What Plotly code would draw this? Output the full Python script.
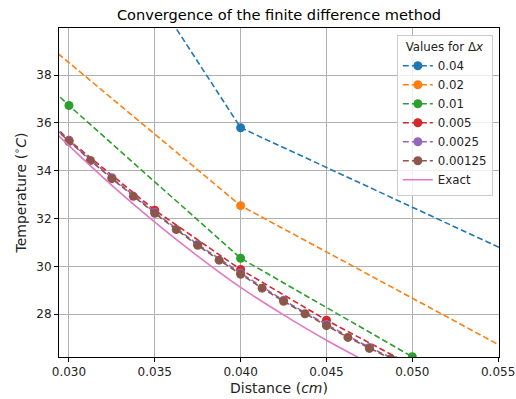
import plotly.graph_objects as go

# Finite-difference solutions for each grid spacing (x in cm, T in °C)
x_004 = [0.0, 0.04, 0.08]
t_004 = [80.0, 35.8, 22.5]

x_002 = [0.0, 0.02, 0.04, 0.06]
t_002 = [80.0, 44.5, 32.54, 24.8]

x_001 = [0.02, 0.03, 0.04, 0.05, 0.06]
t_001 = [43.56, 36.73, 30.34, 26.22, 23.6]

x_0005 = [0.025, 0.030, 0.035, 0.040, 0.045, 0.050]
t_0005 = [38.8, 35.28, 32.35, 29.87, 27.75, 25.85]

x_00025 = [0.0275, 0.0300, 0.0325, 0.0350, 0.0375, 0.0400, 0.0425,
           0.0450, 0.0475, 0.0500]
t_00025 = [36.9, 35.25, 33.71, 32.26, 30.92, 29.72, 28.58, 27.57, 26.61, 25.77]

x_000125 = [0.02875, 0.03000, 0.03125, 0.03250, 0.03375, 0.03500, 0.03625,
            0.03750, 0.03875, 0.04000, 0.04125, 0.04250, 0.04375, 0.04500,
            0.04625, 0.04750, 0.04875, 0.05000]
t_000125 = [36.04, 35.22, 34.43, 33.67, 32.93, 32.22, 31.54, 30.88, 30.26,
            29.67, 29.09, 28.54, 28.02, 27.52, 27.03, 26.57, 26.14, 25.72]

x_exact = [0.0275, 0.0300, 0.0325, 0.0350, 0.0375, 0.0400, 0.0425, 0.0450,
           0.0475, 0.0500]
t_exact = [36.80, 35.05, 33.39, 31.85, 30.43, 29.12, 27.97, 26.91, 25.95, 25.05]

series = [
    ("0.04", x_004, t_004, "#1f77b4"),
    ("0.02", x_002, t_002, "#ff7f0e"),
    ("0.01", x_001, t_001, "#2ca02c"),
    ("0.005", x_0005, t_0005, "#d62728"),
    ("0.0025", x_00025, t_00025, "#9467bd"),
    ("0.00125", x_000125, t_000125, "#8c564b"),
]

fig = go.Figure()
for name, xs, ts, col in series:
    fig.add_trace(go.Scatter(
        x=xs, y=ts, name=name, mode="lines+markers",
        line=dict(color=col, width=1.6, dash="6px,3px"),
        marker=dict(color=col, size=9),
    ))

fig.add_trace(go.Scatter(
    x=x_exact, y=t_exact, name="Exact", mode="lines",
    line=dict(color="#e377c2", width=1.6, shape="spline"),
))

font = "DejaVu Sans, Arial, sans-serif"
fig.update_layout(
    width=516, height=399,
    margin=dict(l=59, r=17, t=28, b=42),
    paper_bgcolor="white", plot_bgcolor="white",
    font=dict(family=font, size=12, color="#222222"),
    title=dict(text="Convergence of the finite difference method",
               x=(59 + 499) / 2 / 516, xanchor="center",
               y=1 - 15 / 399, yanchor="middle",
               font=dict(size=14.6, color="black")),
    showlegend=True,
    legend=dict(
        title=dict(text="Values for Δ<i>x</i>", side="top center",
                   font=dict(size=11.8)),
        x=0.986, xanchor="right", y=0.979, yanchor="top",
        bgcolor="rgba(255,255,255,0.8)", bordercolor="#cccccc", borderwidth=1,
        font=dict(size=11.8), tracegroupgap=0,
    ),
)

fig.update_xaxes(
    range=[0.02942, 0.05505],
    tick0=0.03, dtick=0.005, tickformat=".3f",
    showgrid=True, gridcolor="#b0b0b0", gridwidth=1,
    showline=True, linecolor="black", linewidth=1, mirror=True,
    ticks="outside", ticklen=4, tickcolor="black",
    zeroline=False, automargin=False,
    title=dict(text="Distance (<i>cm</i>)", standoff=4),
)
fig.update_yaxes(
    range=[26.21, 39.97],
    tick0=28, dtick=2,
    showgrid=True, gridcolor="#b0b0b0", gridwidth=1,
    showline=True, linecolor="black", linewidth=1, mirror=True,
    ticks="outside", ticklen=4, tickcolor="black",
    zeroline=False, automargin=False,
    title=dict(text="Temperature (<sup>∘</sup><i>C</i>)", standoff=6),
)

fig.write_html("out.html")
